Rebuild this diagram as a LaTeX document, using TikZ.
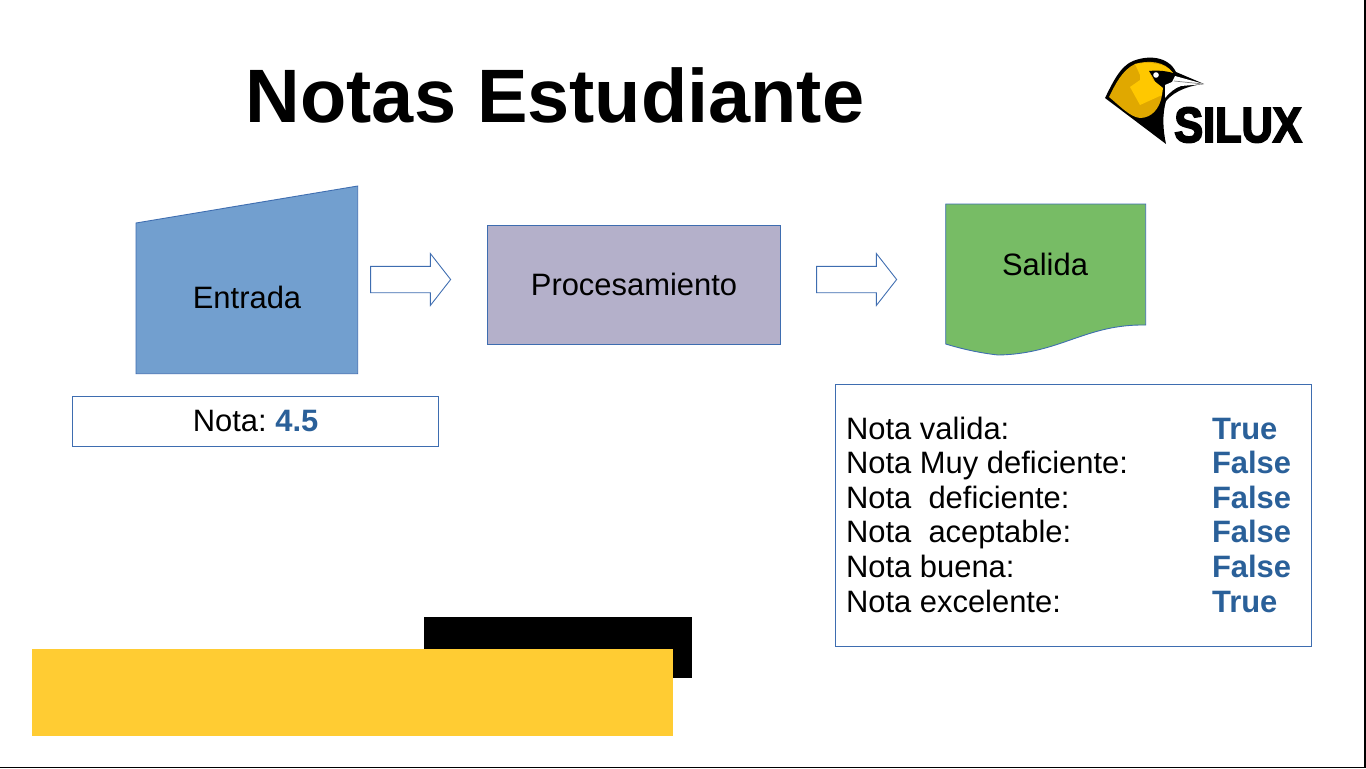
\documentclass[tikz,border=0pt]{standalone}
\usepackage{fontspec}
\setmainfont{Liberation Sans}
\newfontfamily\logofont[FakeBold=4]{Liberation Sans Bold}
\usetikzlibrary{shapes.arrows,positioning}
\definecolor{SiluxBlue}{HTML}{729FCF}
\definecolor{SiluxGray}{HTML}{B4B0CA}
\definecolor{SiluxGreen}{HTML}{77BC65}
\definecolor{SiluxLine}{HTML}{3E6DB0}
\definecolor{SiluxText}{HTML}{2A6099}
\definecolor{SiluxYellow}{HTML}{FFCC33}
\definecolor{BirdDark}{HTML}{E0A800}
\definecolor{BirdLight}{HTML}{FFC800}
\begin{document}
\frenchspacing
\begin{tikzpicture}[x=0.02cm,y=-0.02cm,
  label/.style={font=\fontsize{17.6}{20}\selectfont,inner sep=0pt},
  value/.style={font=\fontsize{17.6}{20}\selectfont\bfseries,text=SiluxText,inner sep=0pt,anchor=base west},
  row/.style={font=\fontsize{17.6}{20}\selectfont,inner sep=0pt,anchor=base west},
  flow/.style={draw=SiluxLine,line width=0.5pt},
  blockarrow/.style={single arrow,draw=SiluxLine,line width=0.5pt,fill=white,minimum height=1.6cm,
                     single arrow head extend=0.255cm,single arrow head indent=0cm,
                     inner xsep=0pt,inner ysep=0.255cm,single arrow tip angle=104},
  box/.style={draw=SiluxLine,line width=0.5pt,fill=white,inner sep=0pt},
]
\useasboundingbox (0,0) rectangle (1366,768);
\fill[white] (0,0) rectangle (1366,768);
% frame edges
\draw[black,line width=1.1pt] (1365,0) -- (1365,767.5) -- (0,767.5);
% title
\node[font=\fontsize{43.1}{48}\selectfont\bfseries,inner sep=0pt] (title) at (555,95) {Notas Estudiante};
% bird
\fill[black] (1105,98) .. controls (1112,84) and (1120,66) .. (1133,61)
  .. controls (1148,55) and (1168,56) .. (1176,72) -- (1204,84)
  .. controls (1192,85) and (1175,90) .. (1166,101)
  .. controls (1162,115) and (1163,130) .. (1166,144) -- cycle;
\fill[BirdDark] (1109,97) .. controls (1115,85) and (1122,70) .. (1135,64)
  .. controls (1148,60) and (1165,61) .. (1173,73) -- (1150,72)
  -- (1162,95) .. controls (1160,108) and (1152,118) .. (1140,118)
  .. controls (1130,117) and (1120,106) .. (1109,97) -- cycle;
\fill[BirdLight] (1135,64) .. controls (1148,62) and (1165,62) .. (1173,73)
  -- (1149,72) -- (1153,80) -- (1163,88) -- (1162,95) -- (1140,105) -- (1130,87) -- (1140,80) -- (1140,75) -- cycle;
\fill[black] (1149,71) .. controls (1158,70) and (1168,71) .. (1176,74)
  -- (1176,81) .. controls (1168,84) and (1155,82) .. (1149,71) -- cycle;
\fill[white] (1156,75) circle (2.8);
\fill[white] (1175,76) -- (1204,84) -- (1181,86) .. controls (1175,88) and (1170,92) .. (1165,98)
  -- (1165,85) -- (1172,82) -- cycle;
\draw[gray,line width=0.4pt] (1174,81) -- (1203,84);
\node[font=\fontsize{28}{30}\logofont,xscale=0.88,transform shape,inner sep=0pt] (logo) at (1238,125) {SILUX};
% bottom bars
\fill[black] (424,617) rectangle (692,678);
\fill[SiluxYellow] (32,649) rectangle (673,736);
% flow shapes
\draw[flow,fill=SiluxBlue] (136,223) -- (357.7,186) -- (357.7,373.7) -- (136,373.7) -- cycle;
\node[label] (entrada) at (247,297) {Entrada};
\node[flow,fill=SiluxGray,minimum width=5.86cm,minimum height=2.38cm,label] (proc) at (634,285) {};
\node[label] (proctext) at (634,284) {Procesamiento};
\draw[flow,fill=SiluxGreen] (945.7,204) -- (1145.7,204) -- (1145.7,325)
  .. controls (1085,324) and (1060,354) .. (998,355)
  .. controls (980,353) and (962,349) .. (945.7,344) -- cycle;
\node[label] (salida) at (1045,264) {Salida};
\node[blockarrow] (arrow1) at (405.5,279.5) {};
\node[blockarrow] (arrow2) at (851.5,279.5) {};
% input value
\node[box,minimum width=7.33cm,minimum height=1cm,font=\fontsize{17.6}{20}\selectfont] (nota) at (255.6,421)
  {Nota: \textbf{\textcolor{SiluxText}{4.5}}};
% results
\node[box,minimum width=9.53cm,minimum height=5.24cm] (results) at (1073.4,515) {};
\node[row] (r1) at (845.7,439) {Nota valida:};
\node[row] (r2) at (845.7,473.6) {Nota Muy deficiente:};
\node[row] (r3) at (845.7,508.2) {Nota\ \ deficiente:};
\node[row] (r4) at (845.7,542.9) {Nota\ \ aceptable:};
\node[row] (r5) at (845.7,577.4) {Nota buena:};
\node[row] (r6) at (845.7,612) {Nota excelente:};
\node[value] (v1) at (1211.7,439) {True};
\node[value] (v2) at (1211.7,473.6) {False};
\node[value] (v3) at (1211.7,508.2) {False};
\node[value] (v4) at (1211.7,542.9) {False};
\node[value] (v5) at (1211.7,577.4) {False};
\node[value] (v6) at (1211.7,612) {True};
\end{tikzpicture}
\end{document}
